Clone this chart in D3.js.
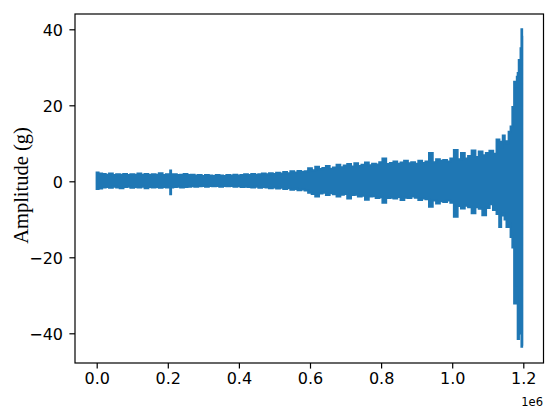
<!DOCTYPE html>
<html>
<head>
<meta charset="utf-8">
<script src="https://cdn.jsdelivr.net/npm/d3@7"></script>
<style>
  html, body { margin: 0; padding: 0; background: #fff; }
  svg { display: block; }
</style>
</head>
<body>
<div id="chart"></div>
<script>
// Sample positions (units of 10,000 samples) and envelope of the amplitude signal (g)
const sampleIdx = [0,1,2,3,4,5,6,7,8,9,10,11,12,13,14,15,16,17,18,19,20,20.6,20.8,21.0,22,23,24,25,26,27,28,29,30,31,32,33,34,35,36,37,38,39,40,41,42,43,44,45,46,47,48,49,50,51,52,53,54,55,56,57,58,59,60,61,62,63,64,65,66,67,68,69,70,71,72,73,74,75,76,77,78,79,80,80.8,82,83,84,85,86,87,88,89,90,91,92,93,94,95,96,97,98,99,100,101,102,103,104,105,106,107,108,109,110,111,112,113,113.5,114,114.5,115,115.6,116.2,116.7,117.2,117.7,118.1,118.3,118.6,118.9,119.1,119.4,119.6,119.7];
const upperEnv = [2.3,2.0,1.9,1.7,2.0,1.6,1.8,1.7,1.9,1.6,1.8,1.7,2.0,1.7,1.9,1.6,1.8,1.7,2.1,1.6,1.8,1.7,2.8,1.7,1.8,1.6,1.7,1.9,1.6,1.7,1.5,1.6,1.4,1.6,1.5,1.4,1.6,1.5,1.4,1.6,1.5,1.7,1.5,1.6,1.8,1.6,1.9,1.7,1.8,2.0,1.8,2.1,1.9,2.2,2.0,2.4,2.1,2.6,2.3,2.7,2.4,2.6,3.4,2.9,3.8,3.2,3.5,4.0,3.3,3.6,4.3,3.7,4.1,4.5,3.9,4.7,4.0,4.3,4.9,4.2,4.6,4.4,5.0,6.0,4.5,4.8,5.2,4.6,4.9,5.4,4.7,5.0,4.6,5.4,4.8,5.2,7.4,5.0,5.8,5.4,5.6,5.2,6.0,8.2,5.8,7.4,6.0,6.6,8.1,6.4,7.8,6.8,7.4,8.0,7.2,11.0,10.4,9.0,12.0,10.5,10.0,13.0,14.4,19.5,26.2,25.0,27.5,28.5,31.9,30.0,35.0,40.0,38.0];
const lowerEnv = [-2.0,-1.9,-1.6,-1.5,-1.7,-1.4,-1.6,-1.8,-1.5,-1.4,-1.7,-1.5,-1.6,-1.4,-1.8,-1.5,-1.6,-1.5,-1.7,-1.5,-1.6,-1.5,-3.4,-1.6,-1.5,-1.4,-1.6,-1.5,-1.4,-1.3,-1.4,-1.3,-1.2,-1.4,-1.2,-1.3,-1.2,-1.4,-1.2,-1.3,-1.2,-1.4,-1.3,-1.5,-1.4,-1.5,-1.6,-1.4,-1.7,-1.5,-1.6,-1.8,-1.6,-1.9,-1.7,-2.0,-1.8,-2.2,-2.0,-2.3,-2.1,-2.4,-3.0,-3.3,-4.0,-3.2,-3.0,-3.6,-3.1,-3.4,-4.0,-3.5,-3.3,-4.5,-3.6,-3.5,-4.0,-3.8,-4.8,-4.0,-3.9,-4.4,-4.2,-5.6,-4.4,-4.3,-4.5,-4.1,-4.9,-4.3,-4.4,-4.0,-4.3,-4.9,-4.5,-4.7,-6.7,-5.0,-5.8,-5.2,-5.4,-5.0,-5.6,-9.3,-6.5,-7.1,-6.4,-6.8,-8.4,-6.8,-7.2,-8.9,-7.0,-6.0,-7.5,-8.6,-12.0,-9.0,-8.5,-10.0,-12.0,-11.0,-14.6,-17.4,-32.1,-28.0,-30.0,-41.5,-36.0,-33.9,-40.0,-43.5,-43.0];
const sampleUnit = 1e4;

const xTicks = [0, 0.2e6, 0.4e6, 0.6e6, 0.8e6, 1.0e6, 1.2e6];
const xTickLabels = ["0.0", "0.2", "0.4", "0.6", "0.8", "1.0", "1.2"];
const yTicks = [-40, -20, 0, 20, 40];
const yTickLabels = ["\u221240", "\u221220", "0", "20", "40"];
const yLabel = "Amplitude (g)";
const xOffsetLabel = "1e6";

const W = 550, H = 414;
const frame = { left: 75, right: 543.5, top: 14, bottom: 363 };

const svg = d3.select("#chart").append("svg").attr("width", W).attr("height", H);

const x = d3.scaleLinear().domain([0, 1.2e6]).range([96.7, 523.3]);
const y = d3.scaleLinear().domain([-40, 40]).range([333.3, 29.3]);

const data = sampleIdx.map((s, i) => ({ s: s * sampleUnit, hi: upperEnv[i], lo: lowerEnv[i] }));

const area = d3.area()
  .x(d => x(d.s))
  .y0(d => y(d.lo))
  .y1(d => y(d.hi))
  .curve(d3.curveStep);

svg.append("path")
  .datum(data)
  .attr("d", area)
  .attr("fill", "#1f77b4")
  .attr("stroke", "#1f77b4")
  .attr("stroke-width", 2.2)
  .attr("stroke-linejoin", "miter");

// Frame
svg.append("rect")
  .attr("x", frame.left).attr("y", frame.top)
  .attr("width", frame.right - frame.left).attr("height", frame.bottom - frame.top)
  .attr("fill", "none").attr("stroke", "#000").attr("stroke-width", 1.2);

// X axis
const xAxis = d3.axisBottom(x).tickValues(xTicks)
  .tickFormat((d, i) => xTickLabels[i]).tickSize(5.6).tickPadding(5.6);
const gx = svg.append("g").attr("transform", `translate(0,${frame.bottom})`).call(xAxis);
gx.select(".domain").remove();
gx.selectAll(".tick line").attr("stroke", "#000").attr("stroke-width", 1.2);
gx.selectAll(".tick text").attr("fill", "#000")
  .style("font-family", "'DejaVu Sans', sans-serif").style("font-size", "16px")
  .attr("dy", null).attr("y", 21);

// Y axis
const yAxis = d3.axisLeft(y).tickValues(yTicks)
  .tickFormat((d, i) => yTickLabels[i]).tickSize(5.6).tickPadding(5.6);
const gy = svg.append("g").attr("transform", `translate(${frame.left},0)`).call(yAxis);
gy.select(".domain").remove();
gy.selectAll(".tick line").attr("stroke", "#000").attr("stroke-width", 1.2);
gy.selectAll(".tick text").attr("fill", "#000")
  .style("font-family", "'DejaVu Sans', sans-serif").style("font-size", "16px")
  .attr("dy", "0.36em").attr("x", -12);

// Offset text
svg.append("text")
  .attr("x", 543).attr("y", 406)
  .attr("text-anchor", "end")
  .style("font-family", "'DejaVu Sans', sans-serif").style("font-size", "11.5px")
  .text(xOffsetLabel);

// Y label
svg.append("text")
  .attr("transform", `translate(28,${(frame.top + frame.bottom) / 2 - 3}) rotate(-90)`)
  .attr("text-anchor", "middle")
  .style("font-family", "'Liberation Serif', 'Times New Roman', serif").style("font-size", "20.5px")
  .text(yLabel);
</script>
</body>
</html>
